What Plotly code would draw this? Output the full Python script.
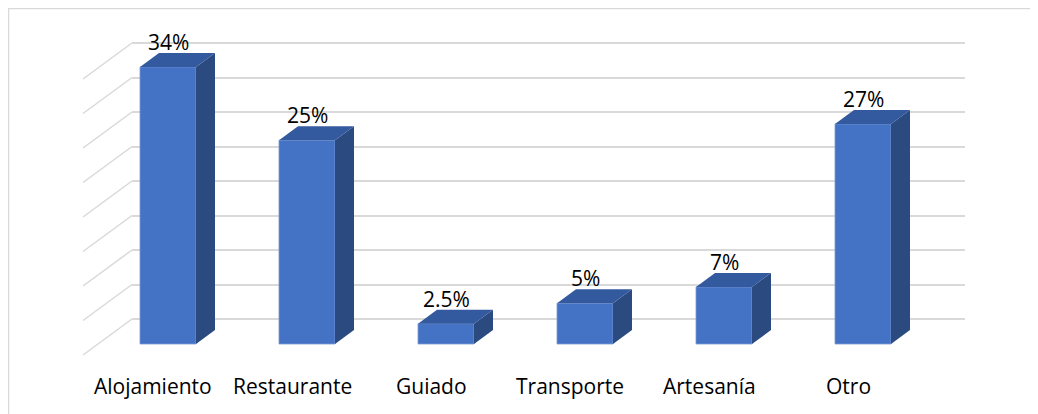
import plotly.graph_objects as go

categories = ["Alojamiento", "Restaurante", "Guiado", "Transporte", "Artesanía", "Otro"]
values = [34, 25, 2.5, 5, 7, 27]
labels = ["34%", "25%", "2.5%", "5%", "7%", "27%"]
grid_ticks = [0, 5, 10, 15, 20, 25, 30, 35, 40]

W, H = 1038, 414
OFF = 8  # page body margin compensation
FRONT = "#4472C4"
TOP = "#33599E"
SIDE = "#2B4A80"
GRID = "#D9D9D9"
FONT = "Open Sans"


def px_x(p):
    return p - OFF


def px_y(p):
    return p - OFF


dom_l, dom_r = px_x(132), px_x(965)
dom0, dom1 = dom_l / W, dom_r / W
step_px = 139.0
x_first_px = px_x(168.0)
x0 = -(x_first_px - dom_l) / step_px
x1 = x0 + (dom_r - dom_l) / step_px

ypx_per = 8.15
base_px = px_y(344.0)
y0 = -(H - base_px) / ypx_per
y1 = base_px / ypx_per

g_per = 6.9
g_base = px_y(319.0)
g0 = -(H - g_base) / g_per
g1 = g_base / g_per

bw = 56 / step_px
dx = 19 / step_px
dy = 14 / ypx_per

fig = go.Figure()

xs = list(range(len(categories)))
fig.add_trace(go.Bar(x=xs, y=values, width=bw, marker=dict(color=FRONT, line=dict(color="#7A9BD6", width=0.8)),
                     hoverinfo="skip", showlegend=False))

for i, v in zip(xs, values):
    xl, xr = i - bw / 2, i + bw / 2
    fig.add_trace(go.Scatter(x=[xr, xr + dx, xr + dx, xr, xr], y=[0, dy, v + dy, v, 0],
                             fill="toself", fillcolor=SIDE, mode="lines", line=dict(width=0, color=SIDE),
                             hoverinfo="skip", showlegend=False))
    fig.add_trace(go.Scatter(x=[xl, xl + dx, xr + dx, xr, xl], y=[v, v + dy, v + dy, v, v],
                             fill="toself", fillcolor=TOP, mode="lines", line=dict(width=0, color=TOP),
                             hoverinfo="skip", showlegend=False))

annotations = []
for i, (v, t) in enumerate(zip(values, labels)):
    annotations.append(dict(x=i, y=v, xref="x", yref="y", text=t, showarrow=False, yshift=25,
                            font=dict(family=FONT, size=21, color="#000000")))
label_y = (base_px - px_y(386)) / ypx_per
for i, c in enumerate(categories):
    annotations.append(dict(x=i - 15 / step_px, y=label_y, xref="x", yref="y", text=c, showarrow=False,
                            font=dict(family=FONT, size=21, color="#000000")))

shapes = []
for t in grid_ticks:
    shapes.append(dict(type="line", xref="paper", yref="y2", x0=dom0, y0=t,
                       x1=dom0 - 49 / W, y1=t - 36 / g_per, line=dict(color=GRID, width=1.5), layer="below"))
shapes.append(dict(type="rect", xref="paper", yref="paper", x0=0.5 / W, y0=-0.05, x1=1.05, y1=1 - 0.5 / H,
                   line=dict(color=GRID, width=1.5), fillcolor="rgba(0,0,0,0)", layer="below"))

fig.update_layout(
    width=W, height=H, margin=dict(l=0, r=0, t=0, b=0),
    paper_bgcolor="white", plot_bgcolor="rgba(0,0,0,0)",
    xaxis=dict(domain=[dom0, dom1], range=[x0, x1], showgrid=False, zeroline=False,
               showticklabels=False, showline=False),
    yaxis=dict(range=[y0, y1], showgrid=False, zeroline=False, showticklabels=False, showline=False),
    yaxis2=dict(overlaying="y", range=[g0, g1], tickvals=grid_ticks, showgrid=True, gridcolor=GRID,
                gridwidth=1.5, zeroline=False, showticklabels=False, showline=False),
    annotations=annotations, shapes=shapes, showlegend=False,
)

fig.add_trace(go.Scatter(x=[x0], y=[g0], yaxis="y2", mode="markers", marker=dict(opacity=0),
                         hoverinfo="skip", showlegend=False))

fig.write_html("out.html")
